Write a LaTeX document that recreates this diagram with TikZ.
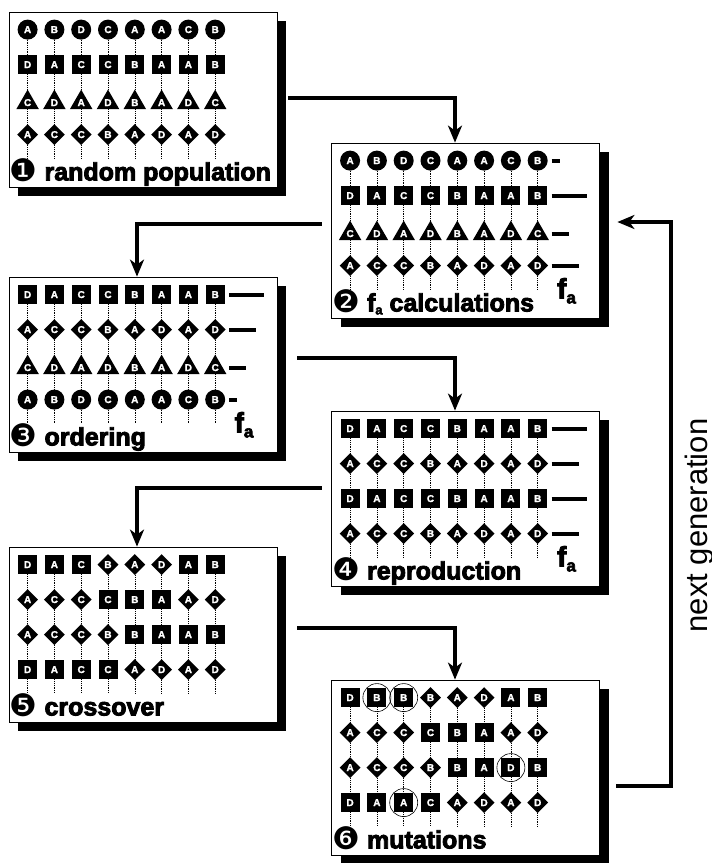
\documentclass[tikz,border=0pt]{standalone}
\usepackage{fontspec}
\setmainfont{Liberation Sans}
\newfontfamily\heavyfont{Liberation Sans Bold}[FakeBold=3.5]
\newfontfamily\genefont{Liberation Sans Bold}[FakeBold=1.5]
\newfontfamily\dingfont{DejaVu Sans}
\usetikzlibrary{arrows.meta,calc,shapes.geometric,shadows}
\newcommand{\stagenum}[1]{\raisebox{-1pt}{\dingfont\fontsize{31}{31}\selectfont#1}}
\newcommand{\fsub}[2]{f\raisebox{-#2}{\fontsize{#1}{#1}\selectfont a}}
% one chromosome row: panel, row, shape/letter list
\newcommand{\chrom}[3]{%
  \foreach \shp/\ltr [count=\col] in {#3} {
    \node[\shp-gene] (#1r#2c\col) at ([xshift={(19+(\col-1)*26.8)*1pt}, yshift={-(18+(#2-1)*35)*1pt}]#1.north west) {\ltr};
    \pgfmathsetmacro{\tail}{#2<4 ? 17 : 13}
    \draw[link] (#1r#2c\col.south) -- ++(0pt,-\tail pt);
  }}
\newcommand{\fitbar}[2]{\draw[bar] ([xshift=14pt]#1.center) -- ++(#2pt,0pt);}

\begin{document}
\begin{tikzpicture}[
  x=1pt, y=1pt,
  panel/.style={draw, line width=0.8pt, fill=white, inner sep=0pt, minimum width=268pt, minimum height=175pt, drop shadow={shadow xshift=9pt, shadow yshift=-9pt, fill=black, opacity=1}},
  gene/.style={fill=black, text=white, inner sep=0pt, font=\genefont\fontsize{10}{10}\selectfont},
  c-gene/.style={gene, circle, minimum size=20pt},
  s-gene/.style={gene, rectangle, minimum size=19pt},
  t-gene/.style={gene, regular polygon, regular polygon sides=3, minimum size=26pt, yshift=-3pt},
  d-gene/.style={gene, diamond, minimum size=21pt},
  link/.style={line width=0.6pt, dash pattern=on 0.9pt off 0.9pt},
  bar/.style={line width=4pt},
  mutant/.style={draw, circle, line width=0.6pt, minimum size=28pt},
  caption/.style={anchor=base west, inner sep=0pt, font=\heavyfont\fontsize{25}{25}\selectfont},
  fa/.style={anchor=base west, inner sep=0pt, font=\heavyfont\fontsize{28}{28}\selectfont},
  edge/.style={-{Stealth[length=17pt,width=14pt,inset=5pt]}, line width=4pt}
]
\useasboundingbox (0,0) rectangle (712,-863);

% panels
\node[panel] (p1) at (143,-99.5) {};
\node[panel] (p2) at (465.5,-230.5) {};
\node[panel] (p3) at (143,-364.5) {};
\node[panel] (p4) at (465.5,-498.5) {};
\node[panel] (p5) at (143,-634.5) {};
\node[panel] (p6) at (465.5,-767.5) {};

% 1 random population
\chrom{p1}{1}{c/A,c/B,c/D,c/C,c/A,c/A,c/C,c/B}
\chrom{p1}{2}{s/D,s/A,s/C,s/C,s/B,s/A,s/A,s/B}
\chrom{p1}{3}{t/C,t/D,t/A,t/D,t/B,t/A,t/D,t/C}
\chrom{p1}{4}{d/A,d/C,d/C,d/B,d/A,d/D,d/A,d/D}
\node[caption] (p1cap) at ([xshift=1pt,yshift=7pt]p1.south west) {\stagenum{❶} random population};

% 2 fitness
\chrom{p2}{1}{c/A,c/B,c/D,c/C,c/A,c/A,c/C,c/B}
\chrom{p2}{2}{s/D,s/A,s/C,s/C,s/B,s/A,s/A,s/B}
\chrom{p2}{3}{t/C,t/D,t/A,t/D,t/B,t/A,t/D,t/C}
\chrom{p2}{4}{d/A,d/C,d/C,d/B,d/A,d/D,d/A,d/D}
\fitbar{p2r1c8}{8}
\fitbar{p2r2c8}{35}
\fitbar{p2r3c8}{17}
\fitbar{p2r4c8}{27}
\node[fa] (p2fa) at ([xshift=-43pt,yshift=20pt]p2.south east) {\fsub{17}{5pt}};
\node[caption] (p2cap) at ([xshift=1pt,yshift=7pt]p2.south west) {\stagenum{❷} \fsub{13}{3pt} calculations};

% 3 ordering
\chrom{p3}{1}{s/D,s/A,s/C,s/C,s/B,s/A,s/A,s/B}
\chrom{p3}{2}{d/A,d/C,d/C,d/B,d/A,d/D,d/A,d/D}
\chrom{p3}{3}{t/C,t/D,t/A,t/D,t/B,t/A,t/D,t/C}
\chrom{p3}{4}{c/A,c/B,c/D,c/C,c/A,c/A,c/C,c/B}
\fitbar{p3r1c8}{35}
\fitbar{p3r2c8}{27}
\fitbar{p3r3c8}{17}
\fitbar{p3r4c8}{8}
\node[fa] (p3fa) at ([xshift=-43pt,yshift=20pt]p3.south east) {\fsub{17}{5pt}};
\node[caption] (p3cap) at ([xshift=1pt,yshift=7pt]p3.south west) {\stagenum{❸} ordering};

% 4 reproduction
\chrom{p4}{1}{s/D,s/A,s/C,s/C,s/B,s/A,s/A,s/B}
\chrom{p4}{2}{d/A,d/C,d/C,d/B,d/A,d/D,d/A,d/D}
\chrom{p4}{3}{s/D,s/A,s/C,s/C,s/B,s/A,s/A,s/B}
\chrom{p4}{4}{d/A,d/C,d/C,d/B,d/A,d/D,d/A,d/D}
\fitbar{p4r1c8}{35}
\fitbar{p4r2c8}{27}
\fitbar{p4r3c8}{35}
\fitbar{p4r4c8}{27}
\node[fa] (p4fa) at ([xshift=-43pt,yshift=20pt]p4.south east) {\fsub{17}{5pt}};
\node[caption] (p4cap) at ([xshift=1pt,yshift=7pt]p4.south west) {\stagenum{❹} reproduction};

% 5 crossover
\chrom{p5}{1}{s/D,s/A,s/C,d/B,d/A,d/D,s/A,s/B}
\chrom{p5}{2}{d/A,d/C,d/C,s/C,s/B,s/A,d/A,d/D}
\chrom{p5}{3}{d/A,d/C,d/C,d/B,s/B,s/A,s/A,s/B}
\chrom{p5}{4}{s/D,s/A,s/C,s/C,d/A,d/D,d/A,d/D}
\node[caption] (p5cap) at ([xshift=1pt,yshift=7pt]p5.south west) {\stagenum{❺} crossover};

% 6 mutations
\chrom{p6}{1}{s/D,s/B,s/B,d/B,d/A,d/D,s/A,s/B}
\chrom{p6}{2}{d/A,d/C,d/C,s/C,s/B,s/A,d/A,d/D}
\chrom{p6}{3}{d/A,d/C,d/C,d/B,s/B,s/A,s/D,s/B}
\chrom{p6}{4}{s/D,s/A,s/A,s/C,d/A,d/D,d/A,d/D}
\node[mutant] (m1) at (p6r1c2) {};
\node[mutant] (m2) at (p6r1c3) {};
\node[mutant] (m3) at (p6r3c7) {};
\node[mutant] (m4) at (p6r4c3) {};
\node[caption] (p6cap) at ([xshift=1pt,yshift=7pt]p6.south west) {\stagenum{❻} mutations};

% flow
\draw[edge] ([xshift=11pt,yshift=1.5pt]p1.east) -| ([xshift=-10.5pt]p2.north);
\draw[edge] ([xshift=-9.5pt,yshift=6.5pt]p2.west) -| ([xshift=-6pt]p3.north);
\draw[edge] ([xshift=20pt,yshift=6.5pt]p3.east) -| ([xshift=-10.5pt]p4.north);
\draw[edge] ([xshift=-9.5pt,yshift=10.5pt]p4.west) -| ([xshift=-6pt]p5.north);
\draw[edge] ([xshift=20pt,yshift=6.5pt]p5.east) -| ([xshift=-10.5pt]p6.north);
\coordinate (ngturn) at (671,-500);
\draw[edge] ([xshift=16.5pt,yshift=-18.5pt]p6.east) -| (ngturn) |- ([xshift=17.5pt,yshift=8.5pt]p2.east);
\node[rotate=90, anchor=base, inner sep=0pt, font=\fontsize{31}{31}\selectfont] (nglabel) at (707,-525.5) {next generation};
\end{tikzpicture}
\end{document}
